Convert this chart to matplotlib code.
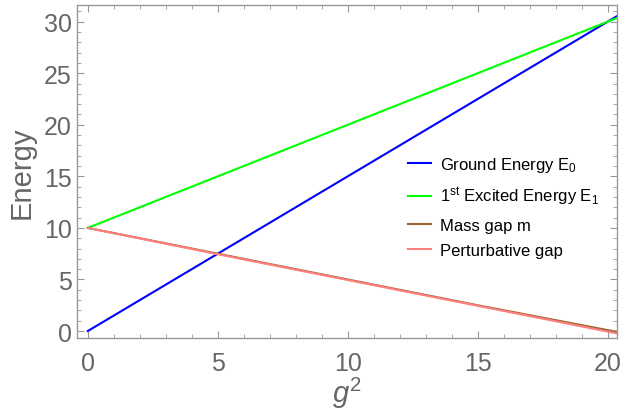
import matplotlib
matplotlib.use("Agg")
import matplotlib.pyplot as plt
from matplotlib.ticker import MultipleLocator

plt.rcParams["font.family"] = ["Liberation Sans", "DejaVu Sans"]
plt.rcParams["mathtext.fontset"] = "custom"
plt.rcParams["mathtext.rm"] = "Liberation Sans"
plt.rcParams["mathtext.it"] = "Liberation Sans:italic"

# data
g2 = [0, 5, 10, 15, 20.4]
ground = [0, 7.5, 15, 22.5, 30.6]
excited = [10, 15, 20, 25, 30.4]
mass_gap = [10, 7.5, 5, 2.5, -0.1]
pert_gap = [10, 7.45, 4.95, 2.45, -0.25]

labels = [
    r"Ground Energy E$_0$",
    r"1$^{\mathrm{st}}$ Excited Energy E$_1$",
    "Mass gap m",
    "Perturbative gap",
]
colors = ["#0000ff", "#00ff00", "#996633", "#ff7f7f"]

gray = "#666666"
frame = "#999999"

fig = plt.figure(figsize=(6.3, 4.1), dpi=100)
ax = fig.add_axes([0.122, 0.173, 0.857, 0.812])

for ys, c, lab in zip([ground, excited, mass_gap, pert_gap], colors, labels):
    ax.plot(g2, ys, color=c, lw=1.5, label=lab)

ax.set_xlim(-0.42, 20.35)
ax.set_ylim(-0.68, 31.6)
ax.xaxis.set_major_locator(MultipleLocator(5))
ax.xaxis.set_minor_locator(MultipleLocator(1))
ax.yaxis.set_major_locator(MultipleLocator(5))
ax.yaxis.set_minor_locator(MultipleLocator(1))

for s in ax.spines.values():
    s.set_color(frame)
    s.set_linewidth(1.0)

ax.tick_params(which="both", direction="in", top=True, right=True,
               color=frame, labelcolor=gray, labelsize=18)
ax.tick_params(which="major", length=5, width=0.8)
ax.tick_params(which="minor", length=3, width=0.6)
ax.tick_params(axis="x", pad=9)

ax.set_xlabel(r"$g^2$", fontsize=21, color=gray, labelpad=0)
ax.set_ylabel("Energy", fontsize=21, color=gray, labelpad=6)

ax.legend(loc="center left", bbox_to_anchor=(0.585, 0.395), frameon=False,
          fontsize=12, handlelength=1.4, handletextpad=0.55, labelspacing=0.62)

fig.savefig("out.png", dpi=100)
